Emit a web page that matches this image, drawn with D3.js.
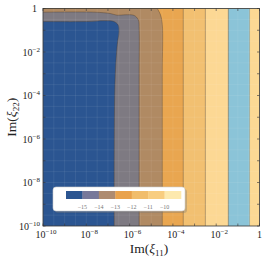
<!DOCTYPE html>
<html>
<head>
<meta charset="utf-8">
<script src="https://cdn.jsdelivr.net/npm/d3@7"></script>
<style>
  html, body { margin: 0; padding: 0; background: #fff; }
  svg { display: block; font-family: "Liberation Serif", "DejaVu Serif", serif; }
</style>
</head>
<body>
<svg id="chart" width="266" height="259"></svg>
<script>
// log10 band edges along Im(xi11), left to right
const bandEdges = [-10, -6.71, -5.56, -4.49, -3.52, -2.5, -1.44, -0.46, 0];
const bandColors = ['#2b5591', '#7e7a82', '#b08a63', '#e9a650', '#f2c071', '#fcd894', '#8bc4d8', '#fcd994'];

// curved contour boundaries near the top-left corner, [log10 x, log10 y]
const blueEdge = [[-6.71, -10], [-6.71, -6.5], [-6.67, -3.27], [-6.57, -1.66], [-6.49, -1.06],
  [-6.53, -0.76], [-6.72, -0.6], [-7.13, -0.56], [-8, -0.6], [-10, -0.6]];
const greyEdge = [[-5.56, -10], [-5.56, -3], [-5.56, -0.97], [-5.6, -0.52], [-5.79, -0.32],
  [-6.2, -0.29], [-6.57, -0.31], [-6.9, -0.23], [-7.6, -0.17], [-10, -0.17]];
const brownEdge = [[-4.49, -10], [-4.49, -3], [-4.49, -0.74], [-4.57, -0.3], [-4.72, 0]];

const legendColors = ['#2b5591', '#77789a', '#ae8b70', '#e9a24c', '#f1bd6b', '#f8cd80', '#fde9ae'];
const legendTicks = [-15, -14, -13, -12, -11, -10];
const xTicks = [-10, -8, -6, -4, -2, 0];
const yTicks = [-10, -8, -6, -4, -2, 0];

const svg = d3.select('#chart');
const x = d3.scaleLinear().domain([-10, 0]).range([43, 259.5]);
const y = d3.scaleLinear().domain([-10, 0]).range([226, 8.5]);

const plot = svg.append('g');
const lineStroke = 'rgba(70,55,40,0.55)';

// vertical bands, drawn right to left so each covers everything to its left
for (let i = bandColors.length - 1; i >= 3; i--) {
  plot.append('rect')
    .attr('x', x(-10)).attr('y', y(0))
    .attr('width', x(bandEdges[i + 1]) - x(-10))
    .attr('height', y(-10) - y(0))
    .attr('fill', bandColors[i]);
  if (i < bandColors.length - 1 && i > 3) {
    plot.append('line')
      .attr('x1', x(bandEdges[i + 1])).attr('x2', x(bandEdges[i + 1]))
      .attr('y1', y(0)).attr('y2', y(-10))
      .attr('stroke', i === 6 ? 'rgba(70,90,100,0.35)' : lineStroke).attr('stroke-width', 0.7);
  }
}
plot.append('line')
  .attr('x1', x(bandEdges[4])).attr('x2', x(bandEdges[4]))
  .attr('y1', y(0)).attr('y2', y(-10))
  .attr('stroke', lineStroke).attr('stroke-width', 0.7);

const edgeLine = d3.line().x((d) => x(d[0])).y((d) => y(d[1])).curve(d3.curveCatmullRom);

function region(edge, color) {
  const top = edge[edge.length - 1];
  const d = edgeLine(edge) + `L${x(-10)},${y(top[1])}L${x(-10)},${y(-10)}Z`;
  plot.append('path').attr('d', d).attr('fill', color);
  plot.append('path').attr('d', edgeLine(edge))
    .attr('fill', 'none').attr('stroke', lineStroke).attr('stroke-width', 0.7);
}
region(brownEdge, bandColors[2]);
region(greyEdge, bandColors[1]);
region(blueEdge, bandColors[0]);

// faint rasterisation grid seen in the reference
const grid = plot.append('g').attr('stroke', '#fff').attr('stroke-opacity', 0.07).attr('stroke-width', 1);
d3.range(-10, 0.1, 0.5).forEach((v) => {
  grid.append('line').attr('x1', x(v)).attr('x2', x(v)).attr('y1', y(0)).attr('y2', y(-10));
  grid.append('line').attr('y1', y(v)).attr('y2', y(v)).attr('x1', x(-10)).attr('x2', x(0));
});

// frame
svg.append('rect')
  .attr('x', x(-10)).attr('y', y(0))
  .attr('width', x(0) - x(-10)).attr('height', y(-10) - y(0))
  .attr('fill', 'none').attr('stroke', '#333').attr('stroke-width', 0.8);

// inward ticks on all sides
const ticks = svg.append('g').attr('stroke', '#333').attr('stroke-width', 0.6);
d3.range(-10, 0.1, 1).forEach((v) => {
  ticks.append('line').attr('x1', x(v)).attr('x2', x(v)).attr('y1', y(-10)).attr('y2', y(-10) - 2.5);
  ticks.append('line').attr('x1', x(v)).attr('x2', x(v)).attr('y1', y(0)).attr('y2', y(0) + 2.5);
  ticks.append('line').attr('y1', y(v)).attr('y2', y(v)).attr('x1', x(-10)).attr('x2', x(-10) + 2.5);
  ticks.append('line').attr('y1', y(v)).attr('y2', y(v)).attr('x1', x(0)).attr('x2', x(0) - 2.5);
});

function powLabel(sel, v) {
  if (v === 0) { sel.text('1'); return; }
  sel.append('tspan').text('10');
  sel.append('tspan').attr('dy', -4).attr('font-size', 7).text('−' + Math.abs(v));
}

xTicks.forEach((v) => {
  const t = svg.append('text')
    .attr('x', x(v) + (v === 0 ? 0 : 3)).attr('y', 238)
    .attr('text-anchor', 'middle').attr('font-size', 10).attr('fill', '#222');
  powLabel(t, v);
});
yTicks.forEach((v) => {
  const t = svg.append('text')
    .attr('x', v === 0 ? 37 : 40).attr('y', y(v) + 3.5)
    .attr('text-anchor', 'end').attr('font-size', 10).attr('fill', '#222');
  powLabel(t, v);
});

function axisTitle(sel, sub) {
  sel.append('tspan').text('Im(');
  sel.append('tspan').attr('font-style', 'italic').text('ξ');
  sel.append('tspan').attr('dy', 3).attr('font-size', 9).text(sub);
  sel.append('tspan').attr('dy', -3).text(')');
}
axisTitle(svg.append('text').attr('x', 149).attr('y', 253)
  .attr('text-anchor', 'middle').attr('font-size', 13.5).attr('fill', '#222'), '11');
axisTitle(svg.append('text').attr('transform', `translate(16,${y(-5)}) rotate(-90)`)
  .attr('text-anchor', 'middle').attr('font-size', 13.5).attr('fill', '#222'), '22');

// colorbar legend
const lg = svg.append('g');
lg.append('rect').attr('x', 54).attr('y', 188).attr('width', 132).attr('height', 24)
  .attr('rx', 3).attr('fill', 'rgba(120,120,120,0.35)').attr('transform', 'translate(1,1)');
lg.append('rect').attr('x', 53).attr('y', 187).attr('width', 132).attr('height', 24)
  .attr('rx', 3).attr('fill', '#fff').attr('stroke', '#ccc').attr('stroke-width', 0.6);
const c = d3.scaleLinear().domain([-16, -9]).range([66, 181]);
lg.selectAll('rect.cell').data(legendColors).join('rect').attr('class', 'cell')
  .attr('x', (d, i) => c(-16 + i)).attr('y', 191)
  .attr('width', c(-15) - c(-16) + 0.3).attr('height', 8)
  .attr('fill', (d) => d);
lg.selectAll('text').data(legendTicks).join('text')
  .attr('x', (d) => c(d)).attr('y', 208.5)
  .attr('text-anchor', 'middle').attr('font-size', 6).attr('fill', '#777')
  .text((d) => '−' + Math.abs(d));
</script>
</body>
</html>
